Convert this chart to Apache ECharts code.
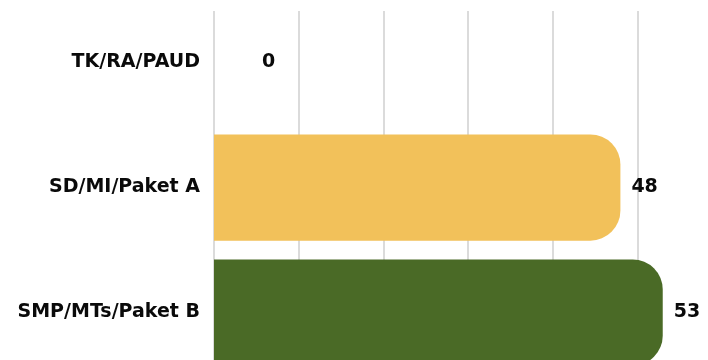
<!DOCTYPE html>
<html>
<head>
<meta charset="utf-8">
<script src="https://cdn.jsdelivr.net/npm/echarts@6/dist/echarts.min.js"></script>
<style>
  html, body { margin: 0; padding: 0; background: #fff; }
  #main { width: 708px; height: 360px; }
</style>
</head>
<body>
<div id="main"></div>
<script>
// jenjang pendidikan
var categories = ['TK/RA/PAUD', 'SD/MI/Paket A', 'SMP/MTs/Paket B'];
var values = [0, 48, 53];
var barColors = ['#F2C15A', '#F2C15A', '#4A6A26'];
var xTicks = [0, 10, 20, 30, 40, 50, 60];

var chart = echarts.init(document.getElementById('main'), null, { renderer: 'canvas' });

var seriesData = values.map(function (v, i) {
  var item = { value: v, itemStyle: { color: barColors[i] } };
  if (v === 0) {
    item.label = { offset: [37, 0] };
  }
  return item;
});

var labelFont = {
  color: '#0a0a0a',
  fontFamily: 'DejaVu Sans',
  fontWeight: 'bold',
  fontSize: 19
};

var option = {
  backgroundColor: '#fff',
  animation: false,
  grid: {
    left: 214,
    top: 0,
    width: 508,
    height: 375,
    outerBoundsMode: 'none'
  },
  xAxis: {
    type: 'value',
    min: xTicks[0],
    max: xTicks[xTicks.length - 1],
    interval: 10,
    axisLabel: { show: false },
    axisLine: { show: false },
    axisTick: { show: false },
    splitLine: {
      show: true,
      lineStyle: { color: '#cfcfcf', width: 1.5 }
    }
  },
  yAxis: {
    type: 'category',
    inverse: true,
    data: categories,
    axisLine: { show: false },
    axisTick: { show: false },
    axisLabel: Object.assign({ margin: 14 }, labelFont)
  },
  series: [{
    type: 'bar',
    data: seriesData,
    barCategoryGap: '15%',
    itemStyle: { borderRadius: [0, 30, 30, 0] },
    label: Object.assign({
      show: true,
      position: 'right',
      distance: 11
    }, labelFont)
  }],
  graphic: [{
    type: 'rect',
    z: 100,
    shape: { x: 205, y: 0, width: 503, height: 11 },
    style: { fill: '#fff' }
  }]
};

chart.setOption(option);
</script>
</body>
</html>
